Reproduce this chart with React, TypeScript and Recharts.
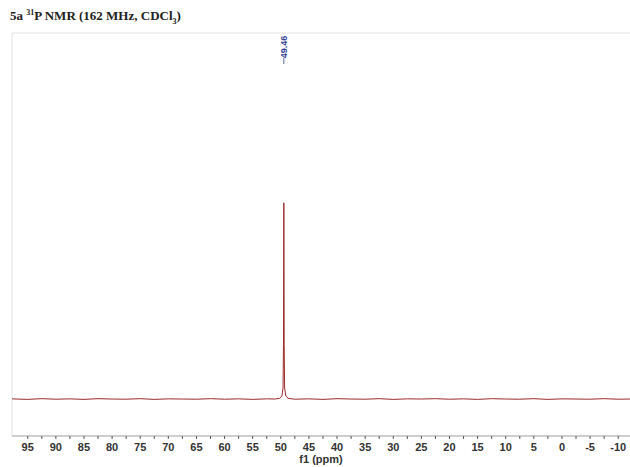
import React from 'react';
import { LineChart, Line, XAxis, YAxis, ReferenceLine } from 'recharts';

// chemical shift (ppm) and intensity
const shifts = [
  97.8, 95.0, 92.5, 90.0, 87.5, 85.0, 82.5, 80.0, 77.5, 75.0, 72.5, 70.0, 67.5, 65.0,
  62.5, 60.0, 57.5, 55.0, 52.5, 51.0, 50.2, 49.8, 49.6, 49.52, 49.46, 49.40, 49.32, 49.1,
  48.7, 47.5, 45.0, 42.5, 40.0, 37.5, 35.0, 32.5, 30.0, 27.5, 25.0, 22.5, 20.0, 17.5,
  15.0, 12.5, 10.0, 7.5, 5.0, 2.5, 0.0, -2.5, -5.0, -7.5, -10.0, -12.1,
];
const intensities = [
  0.05, -0.1, 0.1, -0.05, 0.05, -0.1, 0.1, 0.0, -0.05, 0.1, -0.1, 0.05, 0.0, -0.05,
  0.1, -0.05, 0.05, -0.1, 0.05, 0.0, 0.2, 0.8, 3.0, 15.0, 53.6, 15.0, 3.0, 0.8,
  0.2, -0.05, 0.05, -0.1, 0.1, 0.0, -0.05, 0.1, -0.1, 0.05, 0.0, 0.1, -0.05, 0.05,
  -0.1, 0.1, 0.0, -0.05, 0.1, -0.1, 0.05, 0.0, -0.05, 0.1, -0.05, 0.0,
];
const xTicks = [
  95, 92.5, 90, 87.5, 85, 82.5, 80, 77.5, 75, 72.5, 70, 67.5, 65, 62.5, 60, 57.5, 55, 52.5,
  50, 47.5, 45, 42.5, 40, 37.5, 35, 32.5, 30, 27.5, 25, 22.5, 20, 17.5, 15, 12.5, 10, 7.5,
  5, 2.5, 0, -2.5, -5, -7.5, -10,
];
const peakLabel = 49.46;

const data = shifts.map((s, i) => ({ ppm: s, y: intensities[i] }));

const PeakTag = (props: any) => {
  const x = props.viewBox.x;
  return (
    <g>
      <text
        x={x}
        y={47}
        transform={`rotate(-90 ${x} 47)`}
        textAnchor="middle"
        dominantBaseline="central"
        fontFamily="Arial, 'Liberation Sans', sans-serif"
        fontWeight="bold"
        fontSize={9}
        fill="#2b3a8f"
      >
        {peakLabel.toFixed(2)}
      </text>
      <line x1={x} x2={x} y1={58} y2={64} stroke="#5a6aa8" strokeWidth={1} />
    </g>
  );
};

export default function App() {
  return (
    <div style={{ position: 'fixed', left: 0, top: 0, width: 630, height: 467, background: '#fff' }}>
      <div
        style={{
          position: 'absolute',
          left: 10,
          top: 8,
          fontFamily: "'Liberation Serif', 'Times New Roman', serif",
          fontWeight: 'bold',
          fontSize: 13,
          color: '#222',
          whiteSpace: 'nowrap',
        }}
      >
        5a <sup style={{ fontSize: 8 }}>31</sup>P NMR (162 MHz, CDCl<sub style={{ fontSize: 8 }}>3</sub>)
      </div>
      <LineChart width={630} height={467} data={data} margin={{ top: 33, right: 0, left: 12, bottom: 0 }}>
        <XAxis
          dataKey="ppm"
          type="number"
          reversed
          domain={[-12.1, 97.8]}
          ticks={xTicks}
          interval={0}
          height={31}
          tickFormatter={(v: number) => (v % 5 === 0 ? String(v) : '')}
          tick={{ fontSize: 11, fontWeight: 'bold', fill: '#333', fontFamily: "Arial, 'Liberation Sans', sans-serif" }}
          tickLine={{ stroke: '#555' }}
          tickSize={3}
          tickMargin={4}
          axisLine={{ stroke: '#cfcfcf', strokeWidth: 2 }}
          label={{
            value: 'f1 (ppm)',
            position: 'insideBottom',
            offset: 4,
            fontSize: 11,
            fontWeight: 'bold',
            fill: '#333',
            fontFamily: "Arial, 'Liberation Sans', sans-serif",
          }}
        />
        <YAxis hide domain={[-10.1, 100]} />
        <ReferenceLine y={100} stroke="#e2e2e2" />
        <ReferenceLine x={97.8} stroke="#e2e2e2" />
        <ReferenceLine x={peakLabel} stroke="none" label={<PeakTag />} />
        <Line
          type="linear"
          dataKey="y"
          stroke="#9b2a2a"
          strokeWidth={1}
          dot={false}
          isAnimationActive={false}
        />
      </LineChart>
    </div>
  );
}
